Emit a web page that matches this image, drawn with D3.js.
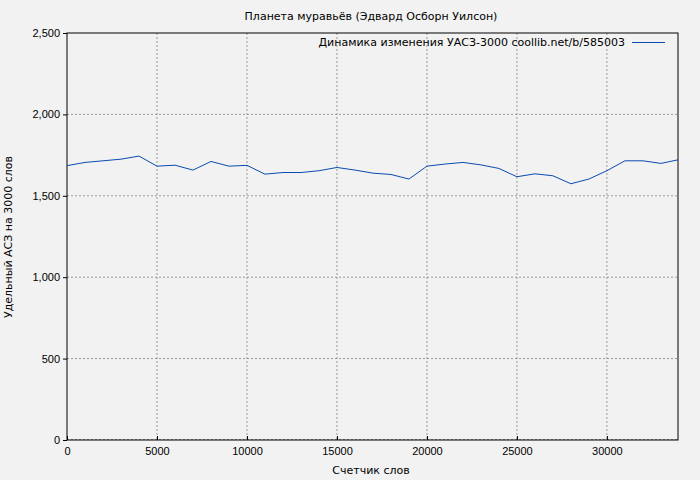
<!DOCTYPE html>
<html><head><meta charset="utf-8">
<script src="https://cdn.jsdelivr.net/npm/d3@7"></script>
<style>body{margin:0;background:#f2f2f2}svg{font-family:"DejaVu Sans",sans-serif;display:block}</style>
</head><body><div id="chart"></div>
<script>
const words = [0,1000,2000,3000,4000,5000,6000,7000,8000,9000,10000,11000,12000,13000,14000,15000,16000,17000,18000,19000,20000,21000,22000,23000,24000,25000,26000,27000,28000,29000,30000,31000,32000,33000,33950];
const values = [1685,1705,1715,1725,1744,1682,1688,1658,1711,1682,1687,1633,1643,1643,1654,1674,1658,1639,1631,1603,1682,1695,1705,1690,1668,1617,1635,1623,1574,1603,1654,1715,1715,1699,1721];
const xTicks = [0,5000,10000,15000,20000,25000,30000];
const yTicks = [0,500,1000,1500,2000,2500];

const width = 700, height = 480;
const m = {top: 33, right: 22, bottom: 40, left: 67};
const svg = d3.select("#chart").append("svg").attr("width", width).attr("height", height);
svg.append("rect").attr("width", width).attr("height", height).attr("fill", "#f2f2f2");

const x = d3.scaleLinear().domain([0, 33950]).range([m.left, width - m.right]);
const y = d3.scaleLinear().domain([0, 2500]).range([height - m.bottom, m.top]);

const grid = svg.append("g").attr("stroke", "#999").attr("stroke-dasharray", "2,2");
grid.selectAll(".gx").data(xTicks.slice(1)).join("line")
  .attr("x1", d => x(d)).attr("x2", d => x(d)).attr("y1", m.top).attr("y2", height - m.bottom);
grid.selectAll(".gy").data(yTicks.slice(1, -1)).join("line")
  .attr("x1", m.left).attr("x2", width - m.right).attr("y1", d => y(d)).attr("y2", d => y(d));
grid.append("line").attr("x1", m.left).attr("x2", width - m.right).attr("y1", y(0) - 0.5).attr("y2", y(0) - 0.5);

svg.append("g").attr("transform", `translate(0,${height - m.bottom})`)
  .call(d3.axisBottom(x).tickValues(xTicks).tickFormat(d3.format("d")).tickSizeInner(-4).tickSizeOuter(0))
  .call(g => g.select(".domain").remove())
  .call(g => g.selectAll("text").attr("dy", "1.1em").attr("font-size", 11));
svg.append("g").attr("transform", `translate(${m.left},0)`)
  .call(d3.axisLeft(y).tickValues(yTicks).tickSizeInner(4).tickSizeOuter(0))
  .call(g => g.select(".domain").remove())
  .call(g => g.selectAll("text").attr("font-size", 11));

svg.append("rect").attr("x", m.left).attr("y", m.top)
  .attr("width", width - m.left - m.right).attr("height", height - m.top - m.bottom)
  .attr("fill", "none").attr("stroke", "#000");

svg.append("path").datum(words.map((w, i) => [w, values[i]]))
  .attr("fill", "none").attr("stroke", "#0a4bb0").attr("stroke-width", 1)
  .attr("d", d3.line().x(d => x(d[0])).y(d => y(d[1])));

svg.append("text").attr("x", 371).attr("y", 20).attr("text-anchor", "middle").attr("font-size", 11)
  .text("Планета муравьёв (Эдвард Осборн Уилсон)");
svg.append("text").attr("x", 371).attr("y", 474).attr("text-anchor", "middle").attr("font-size", 11)
  .text("Счетчик слов");
svg.append("text").attr("transform", "translate(12,237) rotate(-90)").attr("text-anchor", "middle").attr("font-size", 11)
  .text("Удельный АСЗ на 3000 слов");
svg.append("text").attr("x", 625).attr("y", 46).attr("text-anchor", "end").attr("font-size", 11)
  .text("Динамика изменения УАСЗ-3000 coollib.net/b/585003");
svg.append("line").attr("x1", 632).attr("x2", 665).attr("y1", 42.5).attr("y2", 42.5).attr("stroke", "#0a4bb0");
</script></body></html>
